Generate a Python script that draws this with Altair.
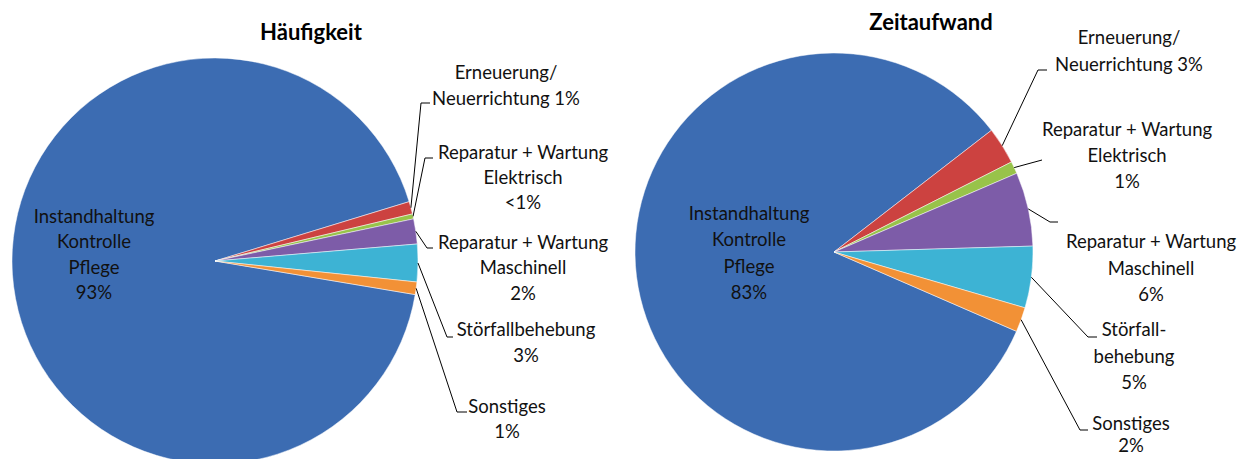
import math
import altair as alt
import pandas as pd

# ---------------- data ----------------
categories = [
    "Instandhaltung Kontrolle Pflege",
    "Erneuerung/Neuerrichtung",
    "Reparatur + Wartung Elektrisch",
    "Reparatur + Wartung Maschinell",
    "Störfallbehebung",
    "Sonstiges",
]
haeufigkeit = [93, 1, 0.4, 2, 3, 1]
zeitaufwand = [83, 3, 1, 6, 5, 2]
stack_order = [5, 0, 1, 2, 3, 4]

labels_h = [
    ["Instandhaltung", "Kontrolle", "Pflege", "93%"],
    ["Erneuerung/", "Neuerrichtung 1%"],
    ["Reparatur + Wartung", "Elektrisch", "<1%"],
    ["Reparatur + Wartung", "Maschinell", "2%"],
    ["Störfallbehebung", "3%"],
    ["Sonstiges", "1%"],
]
labels_z = [
    ["Instandhaltung", "Kontrolle", "Pflege", "83%"],
    ["Erneuerung/", "Neuerrichtung 3%"],
    ["Reparatur + Wartung", "Elektrisch", "1%"],
    ["Reparatur + Wartung", "Maschinell", "6%"],
    ["Störfall-", "behebung", "5%"],
    ["Sonstiges", "2%"],
]
titles = ["Häufigkeit", "Zeitaufwand"]
colors = ["#3C6CB2", "#CC4240", "#98C34A", "#7D5CA8", "#3DB3D4", "#F29136"]

# ---------------- layout (reference page pixels) ----------------
M = 8  # page margin
FONT = "Lato"
pies = [
    dict(values=haeufigkeit, labels=labels_h, title=titles[0],
         cx=215, cy=261, r=203, start=73.0, title_xy=(311, 33),
         lab=[(94, 217), (506, 73), (523, 153), (523, 243), (526, 330), (507, 407)],
         lead=[None, (421, 103, 430), (425, 158, 433), (427, 248, 433),
               (447, 337, 453), (457, 412, 467)],
         gaps=[25.3, 25.5, 24.8, 25.3, 26, 25]),
    dict(values=zeitaufwand, labels=labels_z, title=titles[1],
         cx=834, cy=252, r=199, start=52.3, title_xy=(931, 23),
         lab=[(749, 214), (1129, 38), (1127, 130), (1151, 242), (1134, 330), (1131, 424)],
         lead=[None, (1038, 70, 1047), (1042, 160, 1042), (1050, 222, 1058),
               (1088, 337, 1097), (1080, 430, 1088)],
         gaps=[26.3, 27, 26, 26.5, 26.5, 22]),
]

color_scale = alt.Scale(domain=categories, range=colors)
layers = []
for p in pies:
    s = math.radians(p["start"])
    cx, cy, r = p["cx"] - M, p["cy"] - M, p["r"]
    df = pd.DataFrame({
        "cat": categories,
        "value": p["values"],
        "order": stack_order,
        "ex": [None if l is None else l[0] - M for l in p["lead"]],
        "ey": [None if l is None else l[1] - M for l in p["lead"]],
        "hx": [None if l is None else l[2] - M for l in p["lead"]],
    })

    arc = alt.Chart(df).mark_arc(radius=r, stroke="white", strokeWidth=0.7, strokeOpacity=0.7).encode(
        theta=alt.Theta("value:Q", stack=True, scale=alt.Scale(range=[s, s + 2 * math.pi])),
        color=alt.Color("cat:N", scale=color_scale, legend=None),
        order=alt.Order("order:Q"),
        x=alt.value(cx),
        y=alt.value(cy),
    )
    layers.append(arc)

    base = (
        alt.Chart(df)
        .transform_joinaggregate(total="sum(value)")
        .transform_window(cum="sum(value)", sort=[alt.SortField("order")], frame=[None, 0])
        .transform_calculate(
            mid=f"{s} + 2*PI*(datum.cum - datum.value/2)/datum.total",
        )
        .transform_calculate(
            sx=f"{cx} + {r}*sin(datum.mid)",
            sy=f"{cy} - {r}*cos(datum.mid)",
        )
        .transform_filter("isValid(datum.ex)")
    )
    lead1 = base.mark_rule(color="black", strokeWidth=1).encode(
        x=alt.X("sx:Q", scale=None), y=alt.Y("sy:Q", scale=None),
        x2=alt.X2("ex:Q"), y2=alt.Y2("ey:Q"),
    )
    lead2 = base.mark_rule(color="black", strokeWidth=1).encode(
        x=alt.X("ex:Q", scale=None), y=alt.Y("ey:Q", scale=None),
        x2=alt.X2("hx:Q"), y2=alt.Y2("ey:Q"),
    )
    layers += [lead1, lead2]

    rows = []
    for (lx, ly), lines, g in zip(p["lab"], p["labels"], p["gaps"]):
        for k, t in enumerate(lines):
            rows.append({"line": t, "tx": lx - M, "ty": ly - M + k * g})
    txt = alt.Chart(pd.DataFrame(rows)).mark_text(
        font=FONT, fontSize=18.5, color="#111111", align="center", baseline="middle"
    ).encode(
        x=alt.X("tx:Q", scale=None), y=alt.Y("ty:Q", scale=None), text="line:N"
    )
    layers.append(txt)

    ttl = alt.Chart(pd.DataFrame({"t": [p["title"]]})).mark_text(
        font=FONT, fontSize=22, fontWeight="bold", color="black", align="center", baseline="middle"
    ).encode(
        x=alt.value(p["title_xy"][0] - M), y=alt.value(p["title_xy"][1] - M), text="t:N"
    )
    layers.append(ttl)

chart = (
    alt.layer(*layers)
    .resolve_scale(theta="independent")
    .properties(width=1236, height=451, padding=0, autosize=alt.AutoSizeParams(type="none"))
    .configure_view(stroke=None)
)
chart.save("out.html", embed_options={"renderer": "svg", "actions": False})
